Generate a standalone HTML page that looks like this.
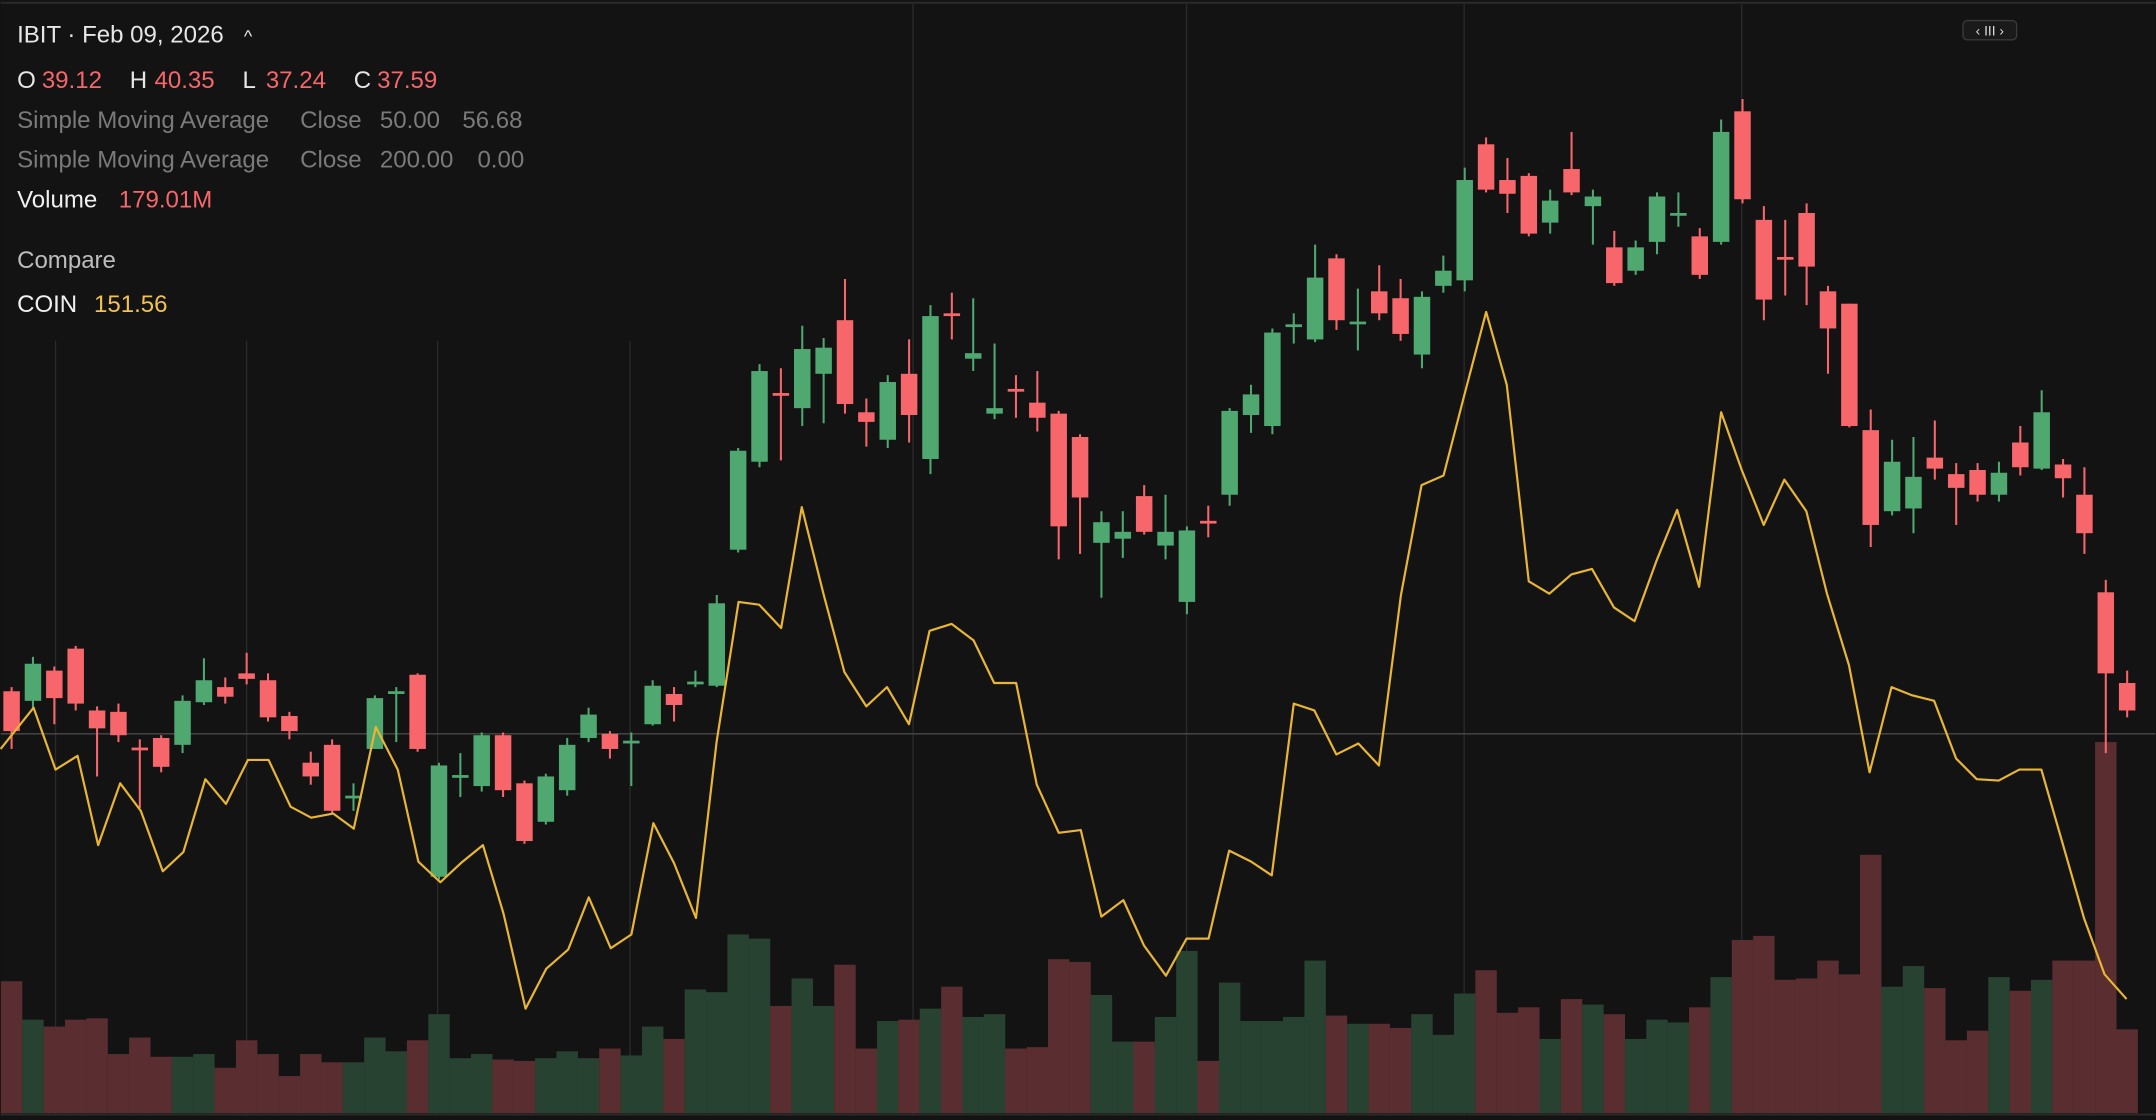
<!DOCTYPE html>
<html><head><meta charset="utf-8"><style>
html,body{margin:0;padding:0;background:#131313;}
svg{display:block;}
text{font-family:"Liberation Sans",sans-serif;}
</style></head><body>
<svg id="s" width="2156" height="1120" viewBox="0 0 1568 815" xmlns="http://www.w3.org/2000/svg">
<rect width="1568" height="815" fill="#131313"/>
<line x1="0" y1="2" x2="1568" y2="2" stroke="#2a2a2a" stroke-width="1.5"/>
<g stroke="#2a2a2a" stroke-width="1">
<line x1="40" y1="248" x2="40" y2="812"/><line x1="179" y1="248" x2="179" y2="812"/>
<line x1="318" y1="248" x2="318" y2="812"/><line x1="458" y1="248" x2="458" y2="812"/>
<line x1="664" y1="3" x2="664" y2="812"/><line x1="863" y1="3" x2="863" y2="812"/>
<line x1="1065" y1="3" x2="1065" y2="812"/><line x1="1267" y1="3" x2="1267" y2="812"/>
</g>
<g id="vol"></g>
<line x1="0" y1="534" x2="1568" y2="534" stroke="#4a4a4a" stroke-width="1"/>
<g id="candles"></g>
<polyline id="coin" fill="none" stroke="#e8b535" stroke-width="1.6" stroke-linejoin="round"/>
<line x1="0" y1="811" x2="1568" y2="811" stroke="#2a2a2a" stroke-width="1.5"/>
<g font-size="17.5">
<text x="12" y="31" fill="#e6e6e6">IBIT · Feb 09, 2026</text>
<text x="177" y="31" fill="#e6e6e6" font-size="13">^</text>
<text x="12" y="64" fill="#e6e6e6">O</text><text x="30" y="64" fill="#f7666b">39.12</text>
<text x="94" y="64" fill="#e6e6e6">H</text><text x="112" y="64" fill="#f7666b">40.35</text>
<text x="176" y="64" fill="#e6e6e6">L</text><text x="193" y="64" fill="#f7666b">37.24</text>
<text x="257" y="64" fill="#e6e6e6">C</text><text x="274" y="64" fill="#f7666b">37.59</text>
<text x="12" y="93" fill="#7a7a7a">Simple Moving Average</text><text x="218" y="93" fill="#7a7a7a">Close</text><text x="276" y="93" fill="#7a7a7a">50.00</text><text x="336" y="93" fill="#7a7a7a">56.68</text>
<text x="12" y="122" fill="#7a7a7a">Simple Moving Average</text><text x="218" y="122" fill="#7a7a7a">Close</text><text x="276" y="122" fill="#7a7a7a">200.00</text><text x="347" y="122" fill="#7a7a7a">0.00</text>
<text x="12" y="151" fill="#f0f0f0">Volume</text><text x="86" y="151" fill="#f7666b">179.01M</text>
<text x="12" y="195" fill="#bdbdbd">Compare</text>
<text x="12" y="227" fill="#f0f0f0">COIN</text><text x="68" y="227" fill="#f2c14e">151.56</text>
</g>
<rect x="1428" y="15" width="39" height="14" rx="3" fill="#1a1a1a" stroke="#3a3a3a"/>
<text x="1447.5" y="26" font-size="10" fill="#ddd" text-anchor="middle">‹ III ›</text>
</svg>
<script>
var C=[[503,532,500,545,0],[483,510,478,515,1],[488,508,485,527,0],[472,512,470,517,0],[517,530,514,565,0],[518,535,512,540,0],[544,546,538,588,0],[537,558,535,562,0],[510,542,506,548,1],[495,511,479,513,1],[500,507,493,512,0],[490,494,475,498,0],[495,522,490,525,0],[521,532,518,538,0],[555,565,547,571,0],[542,590,538,592,0],[579,581,570,590,1],[508,545,506,545,1],[503,505,500,540,1],[491,545,490,547,0],[557,638,555,640,1],[564,566,548,580,1],[535,572,533,576,1],[535,575,533,580,0],[570,612,568,614,0],[565,598,563,600,1],[542,575,537,579,1],[520,537,515,540,1],[534,545,532,552,0],[539,541,533,572,1],[499,527,495,528,1],[505,513,500,525,0],[496,498,488,500,1],[439,499,433,500,1],[328,400,326,402,1],[270,336,265,340,1],[286,288,268,335,0],[254,297,237,310,1],[253,272,246,308,1],[233,294,203,301,0],[300,307,290,325,0],[278,320,273,326,1],[272,302,247,322,0],[230,334,222,345,1],[228,230,213,247,0],[257,261,217,270,1],[297,301,250,305,1],[283,285,273,304,0],[293,304,270,314,0],[301,383,299,407,0],[318,362,316,403,0],[380,395,372,435,1],[387,392,372,406,1],[361,387,353,389,0],[387,397,360,407,1],[386,438,383,447,1],[379,381,368,391,0],[299,360,297,368,1],[287,302,280,315,1],[242,310,239,316,1],[236,238,228,250,1],[202,247,178,249,1],[188,233,185,240,0],[234,236,210,255,1],[212,228,193,233,0],[217,243,203,248,0],[216,258,212,268,1],[197,208,186,213,1],[131,204,122,212,1],[105,138,100,140,0],[131,141,115,155,0],[128,170,126,172,0],[146,162,138,170,1],[123,140,96,142,0],[143,150,138,178,1],[180,206,168,208,0],[180,197,175,200,1],[143,176,140,185,1],[155,157,140,165,1],[172,200,166,203,0],[96,176,87,178,1],[81,145,72,148,0],[160,218,150,233,0],[187,189,160,215,0],[155,194,148,222,0],[212,239,208,272,0],[221,310,221,311,0],[313,382,298,398,0],[336,372,320,375,1],[347,370,318,388,1],[333,341,306,349,0],[345,355,337,382,0],[342,360,337,365,0],[344,360,336,365,1],[322,340,310,346,0],[300,341,284,342,1],[338,348,334,362,0],[360,388,340,403,0],[431,490,422,548,0],[497,517,488,522,0]];
var V=[714,742,747,742,741,767,755,769,769,767,777,757,767,783,767,773,773,755,765,757,738,770,767,771,772,770,765,770,763,768,747,756,720,722,680,683,732,712,732,702,763,743,742,734,718,740,738,763,762,698,700,724,758,758,740,692,772,715,743,743,740,699,739,745,745,748,738,753,723,706,737,733,756,727,731,738,756,742,744,733,711,684,681,713,712,699,709,622,718,703,719,757,750,711,721,713,699,699,540,749];
var L=[[0,545],[24,515],[40,560],[56,550],[71,615],[87,570],[102,590],[118,634],[133,620],[149,567],[164,585],[180,553],[195,553],[211,587],[226,595],[242,592],[257,603],[273,529],[289,560],[304,627],[320,642],[335,628],[351,615],[366,665],[382,734],[397,705],[413,691],[428,653],[444,690],[459,680],[475,599],[490,628],[506,668],[521,540],[537,438],[552,440],[568,457],[583,369],[599,433],[614,489],[630,514],[645,500],[661,527],[676,459],[692,454],[708,466],[723,497],[739,497],[754,571],[770,606],[786,604],[801,667],[817,655],[832,688],[848,710],[863,683],[879,683],[894,619],[910,627],[925,637],[941,512],[956,517],[972,549],[988,541],[1003,557],[1019,433],[1034,353],[1050,346],[1065,288],[1081,227],[1096,280],[1112,423],[1127,432],[1143,418],[1158,414],[1174,442],[1189,452],[1205,408],[1220,371],[1236,427],[1252,300],[1267,342],[1283,382],[1298,349],[1314,372],[1329,432],[1345,484],[1360,562],[1376,500],[1391,506],[1407,510],[1423,552],[1438,567],[1454,568],[1469,560],[1485,560],[1500,612],[1516,668],[1531,709],[1547,727]];
var ns="http://www.w3.org/2000/svg";
function el(t,a,p){var e=document.createElementNS(ns,t);for(var k in a)e.setAttribute(k,a[k]);p.appendChild(e);}
var cg=document.getElementById("candles"),vg=document.getElementById("vol");
for(var i=0;i<C.length;i++){var x=8+15.55*i,c=C[i],col=c[4]?"#4fa870":"#f7666b";
el("rect",{x:x-7.8,y:V[i],width:15.6,height:810-V[i],fill:c[4]?"#284232":"#5a2d30"},vg);
el("line",{x1:x,x2:x,y1:c[2],y2:c[3],stroke:col,"stroke-width":1.5},cg);
var h=c[1]-c[0];if(h<2){el("rect",{x:x-6,y:c[0],width:12,height:1.6,fill:col},cg);}
else el("rect",{x:x-6,y:c[0],width:12,height:h,fill:col},cg);}
document.getElementById("coin").setAttribute("points",L.map(function(p){return p.join(",")}).join(" "));
</script>
</body></html>
